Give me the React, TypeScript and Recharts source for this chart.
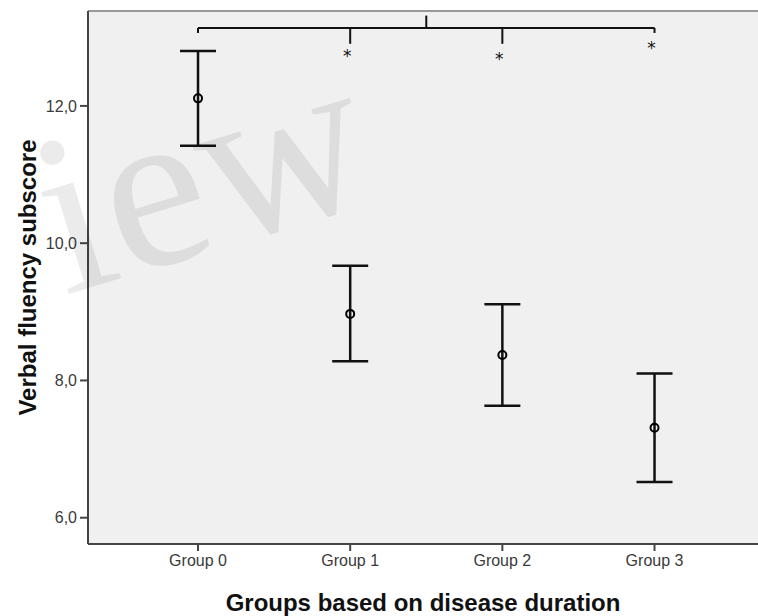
import {
  ComposedChart,
  Scatter,
  ErrorBar,
  XAxis,
  YAxis,
  ReferenceLine,
  ReferenceDot,
  CartesianGrid,
} from 'recharts'

const GROUPS = ['Group 0', 'Group 1', 'Group 2', 'Group 3']
const MEANS = [12.11, 8.97, 8.37, 7.31]
const UPPER = [12.8, 9.67, 9.11, 8.1]
const LOWER = [11.42, 8.28, 7.63, 6.52]
const Y_TICKS = [6, 8, 10, 12]

// significance bracket: group 0 vs groups 1-3
const BRACKET_Y = 13.136
const BRACKET_HOOK_Y = 13.063
const BRACKET_DROP_Y = 12.905
const BRACKET_TOP_Y = 13.316
const STAR_X = [1, 2, 3]
const STAR_Y = [12.77, 12.73, 12.89]

const Y_MIN = 5.617
const Y_MAX = 13.383

const FONT = 'Liberation Sans, Arial, sans-serif'

const data = GROUPS.map((g, i) => ({
  x: i,
  mean: MEANS[i],
  err: [MEANS[i] - LOWER[i], UPPER[i] - MEANS[i]],
}))

const fmt = (v: number) => v.toFixed(1).replace('.', ',')

const MeanDot = (props: any) => {
  const { cx, cy } = props
  return <circle cx={cx} cy={cy} r={4} fill="none" stroke="#000" strokeWidth={2} />
}

export default function App() {
  return (
    <div style={{ position: 'absolute', left: 0, top: 0, width: 758, height: 616, background: '#fff', overflow: 'hidden' }}>
      <ComposedChart
        width={758}
        height={616}
        data={data}
        margin={{ top: 11, right: 0, bottom: 0, left: 0 }}
      >
        <CartesianGrid fill="#f0f0f0" horizontal={false} vertical={false} />
        <XAxis
          dataKey="x"
          type="number"
          domain={[-0.723, 3.68]}
          ticks={[0, 1, 2, 3]}
          tickFormatter={(i: number) => GROUPS[i]}
          allowDataOverflow
          height={72}
          tickSize={7}
          tickMargin={4}
          fontSize={16}
          axisLine={{ stroke: '#444', strokeWidth: 2 }}
          tickLine={{ stroke: '#444', strokeWidth: 2 }}
          tick={{ fill: '#3a3a3a', fontSize: 16, fontFamily: FONT }}
          label={{
            value: 'Groups based on disease duration',
            position: 'insideBottom',
            offset: 5,
            style: { fill: '#111', fontSize: 24, fontWeight: 'bold', fontFamily: FONT },
          }}
        />
        <YAxis
          type="number"
          domain={[Y_MIN, Y_MAX]}
          ticks={Y_TICKS}
          tickFormatter={fmt}
          allowDataOverflow
          width={88}
          tickSize={8}
          tickMargin={3}
          fontSize={16}
          axisLine={{ stroke: '#444', strokeWidth: 2 }}
          tickLine={{ stroke: '#444', strokeWidth: 2 }}
          tick={{ fill: '#3a3a3a', fontSize: 16, fontFamily: FONT }}
          label={{
            value: 'Verbal fluency subscore',
            angle: -90,
            position: 'center',
            dx: -17,
            style: { fill: '#111', fontSize: 24, fontWeight: 'bold', fontFamily: FONT, textAnchor: 'middle' },
          }}
        />
        <ReferenceLine y={Y_MAX} stroke="#999" strokeWidth={2} />
        <ReferenceLine segment={[{ x: 0, y: BRACKET_Y }, { x: 3, y: BRACKET_Y }]} stroke="#111" strokeWidth={2} />
        <ReferenceLine segment={[{ x: 0, y: BRACKET_Y }, { x: 0, y: BRACKET_HOOK_Y }]} stroke="#111" strokeWidth={2} />
        <ReferenceLine segment={[{ x: 3, y: BRACKET_Y }, { x: 3, y: BRACKET_HOOK_Y }]} stroke="#111" strokeWidth={2} />
        <ReferenceLine segment={[{ x: 1, y: BRACKET_Y }, { x: 1, y: BRACKET_DROP_Y }]} stroke="#111" strokeWidth={2} />
        <ReferenceLine segment={[{ x: 2, y: BRACKET_Y }, { x: 2, y: BRACKET_DROP_Y }]} stroke="#111" strokeWidth={2} />
        <ReferenceLine segment={[{ x: 1.5, y: BRACKET_Y }, { x: 1.5, y: BRACKET_TOP_Y }]} stroke="#111" strokeWidth={2} />
        {STAR_X.map((sx, i) => (
          <ReferenceDot
            key={`star-${i}`}
            x={sx}
            y={STAR_Y[i]}
            r={0}
            stroke="none"
            fill="none"
            label={{ value: '*', position: 'center', dx: -3, dy: 3, fill: '#111', fontSize: 17, fontFamily: 'DejaVu Sans, sans-serif' }}
          />
        ))}
        <Scatter dataKey="mean" shape={MeanDot} isAnimationActive={false}>
          <ErrorBar dataKey="err" direction="y" width={18} stroke="#111" strokeWidth={2.5} />
        </Scatter>
      </ComposedChart>
      <div
        style={{
          position: 'absolute',
          left: 8,
          top: 112,
          fontFamily: 'Liberation Serif, DejaVu Serif, serif',
          fontSize: 230,
          color: 'rgba(0,0,0,0.08)',
          transform: 'rotate(-17deg)',
          transformOrigin: '0 0',
          pointerEvents: 'none',
          lineHeight: 1,
          whiteSpace: 'nowrap',
        }}
      >
        iew
      </div>
    </div>
  )
}
